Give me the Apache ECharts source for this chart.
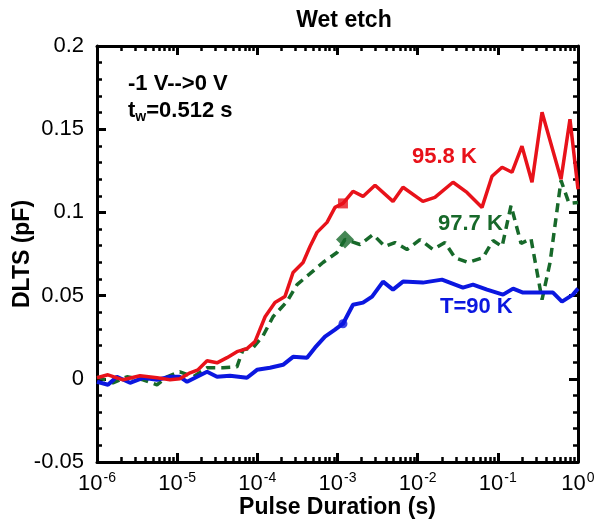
<!DOCTYPE html>
<html><head><meta charset="utf-8">
<script src="https://cdn.jsdelivr.net/npm/echarts@6/dist/echarts.min.js"></script>
<style>html,body{margin:0;padding:0;background:#fff}#c{width:603px;height:527px}</style>
</head><body><div id="c"></div>
<script>
// Pulse durations (s) and DLTS values (pF)
const redT = [1.00e-6,1.37e-6,2.11e-6,3.44e-6,5.60e-6,8.14e-6,1.08e-5,1.45e-5,1.82e-5,2.36e-5,3.14e-5,4.19e-5,5.57e-5,7.43e-5,9.35e-5,1.25e-4,1.66e-4,2.21e-4,2.79e-4,3.72e-4,4.54e-4,5.55e-4,7.40e-4,9.31e-4,1.17e-3,1.56e-3,2.08e-3,2.94e-3,4.92e-3,6.56e-3,1.16e-2,1.64e-2,2.76e-2,4.12e-2,6.35e-2,8.46e-2,0.113,0.150,0.200,0.267,0.356,0.614,0.794,1.0];
const redV = [0.0006,0.0024,-0.0006,0.0018,0.0006,-0.0006,0,0.0036,0.0054,0.0108,0.0096,0.0127,0.0163,0.0181,0.0223,0.0373,0.0458,0.0494,0.0639,0.0699,0.0795,0.0880,0.0940,0.1030,0.1054,0.1127,0.1096,0.1163,0.1066,0.1151,0.1066,0.1090,0.1181,0.1120,0.1030,0.1217,0.1271,0.1241,0.1398,0.1181,0.1602,0.1199,0.1560,0.1139];

const greenT = [1.00e-6,1.58e-6,2.37e-6,3.75e-6,5.60e-6,7.46e-6,1.08e-5,1.58e-5,2.36e-5,3.73e-5,5.57e-5,6.62e-5,8.83e-5,1.18e-4,1.57e-4,2.34e-4,3.13e-4,4.54e-4,6.59e-4,9.86e-4,1.24e-3,1.91e-3,2.77e-3,3.92e-3,5.21e-3,7.36e-3,1.07e-2,1.55e-2,2.19e-2,2.92e-2,4.25e-2,6.53e-2,8.71e-2,0.113,0.146,0.195,0.259,0.356,0.448,0.614,0.773,1.0];
const greenV = [0.0012,-0.0024,0.0012,-0.0006,-0.0036,0.0012,0.0042,0.0012,0.0066,0.0066,0.0072,0.0175,0.0187,0.0259,0.0373,0.0464,0.0566,0.0632,0.0699,0.0759,0.0837,0.0807,0.0867,0.0795,0.0819,0.0777,0.0837,0.0777,0.0819,0.0728,0.0699,0.0728,0.0831,0.0795,0.1041,0.0813,0.0843,0.0476,0.0699,0.1192,0.1054,0.1060];

const blueT = [1.00e-6,1.37e-6,1.77e-6,2.58e-6,3.75e-6,5.60e-6,8.14e-6,1.08e-5,1.33e-5,1.77e-5,2.36e-5,3.14e-5,4.56e-5,7.43e-5,9.91e-5,1.44e-4,2.09e-4,2.79e-4,4.17e-4,5.24e-4,6.98e-4,9.31e-4,1.17e-3,1.56e-3,2.08e-3,2.70e-3,3.70e-3,4.92e-3,6.56e-3,1.16e-2,2.01e-2,3.67e-2,4.90e-2,7.33e-2,0.116,0.155,0.206,0.488,0.631,0.865,1.0];
const blueV = [-0.0018,-0.0036,0.0012,-0.0024,0.0006,-0.0006,0.0012,0.0012,-0.0018,0.0012,0.0042,0.0012,0.0018,0.0006,0.0054,0.0066,0.0084,0.0132,0.0126,0.0187,0.0253,0.0295,0.0331,0.0445,0.0458,0.0494,0.0584,0.0536,0.0584,0.0578,0.0596,0.0548,0.0566,0.0536,0.0506,0.0542,0.0518,0.0518,0.0464,0.0506,0.0542];

// highlighted markers
const redMark = [[1.17e-3, 0.1054]];
const greenMark = [[1.24e-3, 0.0837]];
const blueMark = [[1.17e-3, 0.0331]];

const yTicks = {min: -0.05, max: 0.2, interval: 0.05};
const xRange = {min: 1e-6, max: 1};

const FONT = 'Liberation Sans, Arial, sans-serif';
const zip = (t, v) => t.map((x, i) => [x, v[i]]);

const RED = '#e8121a', GREEN = '#17692a', BLUE = '#0b17e0';
const axisLineW = 3;
const xBase = {
  type: 'log', logBase: 10, min: xRange.min, max: xRange.max, interval: 1,
  axisLine: {show: true, onZero: false, lineStyle: {color: '#000', width: axisLineW}},
  axisTick: {inside: true, length: 9, lineStyle: {color: '#000', width: 3}},
  minorTick: {show: true, splitNumber: 9, length: 5, lineStyle: {color: '#000', width: 2.5}},
  splitLine: {show: false}, minorSplitLine: {show: false}
};
const yBase = {
  type: 'value', min: yTicks.min, max: yTicks.max, interval: yTicks.interval,
  axisLine: {show: true, onZero: false, lineStyle: {color: '#000', width: axisLineW}},
  axisTick: {inside: true, length: 9, lineStyle: {color: '#000', width: 3}},
  minorTick: {show: true, splitNumber: 5, length: 5, lineStyle: {color: '#000', width: 2.5}},
  splitLine: {show: false}
};

const chart = echarts.init(document.getElementById('c'));
chart.setOption({
  backgroundColor: '#fff',
  animation: false,
  title: {text: 'Wet etch', left: 339, top: 4, textAlign: 'center',
    textStyle: {fontFamily: FONT, fontSize: 23, fontWeight: 'bold', color: '#000'}},
  grid: {left: 97, right: 25, top: 46, bottom: 65},
  xAxis: [
    Object.assign({}, xBase, {
      position: 'bottom',
      name: 'Pulse Duration (s)', nameLocation: 'middle', nameGap: 34, nameMoveOverlap: false,
      nameTextStyle: {fontFamily: FONT, fontSize: 23, fontWeight: 'bold', color: '#000',
        verticalAlign: 'top'},
      axisLabel: {
        margin: 9, color: '#000', fontFamily: FONT, fontSize: 22,
        formatter: v => '{b|10}{s|' + Math.round(Math.log10(v)) + '}',
        rich: {
          b: {fontFamily: FONT, fontSize: 22, color: '#000'},
          s: {fontFamily: FONT, fontSize: 14, color: '#000', verticalAlign: 'top', padding: [0, 0, 12, 1]}
        }
      }
    }),
    Object.assign({}, xBase, {position: 'top', axisLabel: {show: false}})
  ],
  yAxis: [
    Object.assign({}, yBase, {
      position: 'left',
      name: 'DLTS (pF)', nameLocation: 'middle', nameGap: 63, nameRotate: 90, nameMoveOverlap: false,
      nameTextStyle: {fontFamily: FONT, fontSize: 23, fontWeight: 'bold', color: '#000'},
      axisLabel: {margin: 13, color: '#000', fontFamily: FONT, fontSize: 22}
    }),
    Object.assign({}, yBase, {position: 'right', axisLabel: {show: false}})
  ],
  series: [
    {type: 'line', name: '95.8 K', data: zip(redT, redV), showSymbol: false, symbol: 'none',
      lineStyle: {color: RED, width: 3.5}, z: 3},
    {type: 'line', name: '97.7 K', data: zip(greenT, greenV), showSymbol: false, symbol: 'none',
      lineStyle: {color: GREEN, width: 3.5, type: [9, 6]}, z: 2},
    {type: 'line', name: 'T=90 K', data: zip(blueT, blueV), showSymbol: false, symbol: 'none',
      lineStyle: {color: BLUE, width: 4}, z: 2},
    {type: 'scatter', data: redMark, symbol: 'rect', symbolSize: 10, itemStyle: {color: RED}, z: 4},
    {type: 'scatter', data: greenMark, symbol: 'diamond', symbolSize: 18, itemStyle: {color: GREEN}, z: 4},
    {type: 'scatter', data: blueMark, symbol: 'circle', symbolSize: 9, itemStyle: {color: BLUE}, z: 4}
  ],
  graphic: [
    {type: 'text', left: 128, top: 73, style: {text: '-1 V-->0 V', font: 'bold 22px ' + FONT, fill: '#000'}},
    {type: 'text', left: 128, top: 100, style: {
      text: '{a|t}{w|w}{a|=0.512 s}',
      rich: {
        a: {font: 'bold 22px ' + FONT, fill: '#000'},
        w: {font: 'bold 14px ' + FONT, fill: '#000', verticalAlign: 'bottom', padding: [12, 0, 0, 0]}
      }}},
    {type: 'text', left: 412, top: 146, style: {text: '95.8 K', font: 'bold 22px ' + FONT, fill: RED}},
    {type: 'text', left: 438, top: 213, style: {text: '97.7 K', font: 'bold 22px ' + FONT, fill: GREEN}},
    {type: 'text', left: 440, top: 296, style: {text: 'T=90 K', font: 'bold 22px ' + FONT, fill: BLUE}}
  ]
});
</script></body></html>
